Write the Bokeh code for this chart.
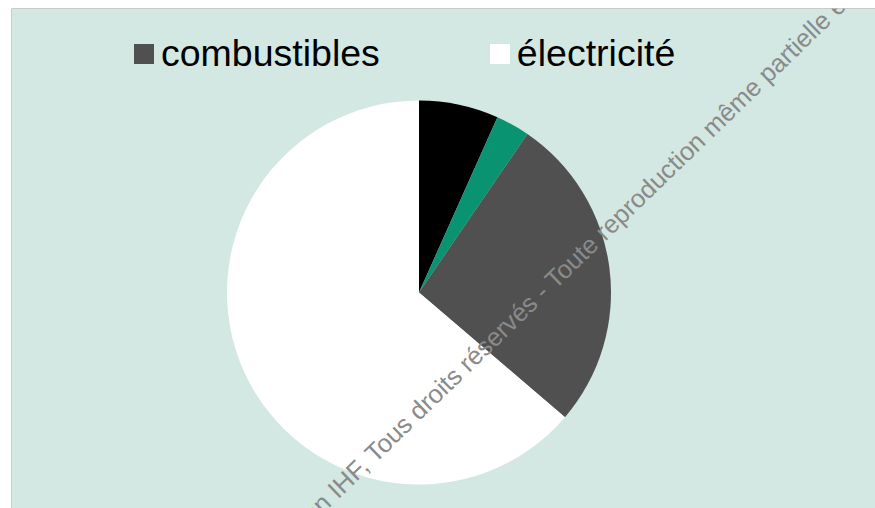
import math
from bokeh.plotting import figure
from bokeh.models import Range1d, Legend, LegendItem, ColumnDataSource, Span
from bokeh.core.properties import value
from bokeh.embed import file_html
from bokeh.resources import INLINE

# Data (share of consumption, %), clockwise from 12 o'clock
categories = ["carburants", "chaleur", "combustibles", "électricité"]
shares = [6.7, 2.85, 26.7, 63.75]
colors = ["#000000", "#0a9370", "#505050", "#ffffff"]
legend_shown = ["combustibles", "électricité"]
watermark = "Fondation IHF, Tous droits réservés - Toute reproduction même partielle est interdite"

W, H = 875, 508
p = figure(width=W, height=H, output_backend="svg", toolbar_location=None,
           x_range=Range1d(0, 864), y_range=Range1d(0, 500),
           min_border_left=11, min_border_right=0, min_border_top=8, min_border_bottom=0)
p.axis.visible = False
p.grid.visible = False
p.background_fill_color = "#d4e8e3"
p.border_fill_color = "#ffffff"
p.outline_line_color = None

# chart-area border only on the left and top (the rest runs off the window)
p.add_layout(Span(location=0, dimension="height", line_color="#a6a6a6", line_width=1))
p.add_layout(Span(location=500, dimension="width", line_color="#a6a6a6", line_width=1))

total = sum(shares)
starts, ends = [], []
cum = 0.0
for s in shares:
    starts.append(math.pi / 2 - 2 * math.pi * cum / total)
    cum += s
    ends.append(math.pi / 2 - 2 * math.pi * cum / total)

src = ColumnDataSource(dict(cat=categories, share=shares, color=colors,
                            start=starts, end=ends,
                            x=[407.5] * len(shares), y=[216.0] * len(shares)))
r = p.wedge(x="x", y="y", radius=192, start_angle="start", end_angle="end",
            direction="clock", fill_color="color", line_color=None, source=src)

items = [LegendItem(label=c, renderers=[r], index=categories.index(c)) for c in legend_shown]
legend = Legend(items=items, orientation="horizontal", location=(120, 433),
                glyph_width=25, glyph_height=25, label_standoff=5, spacing=107,
                label_text_font="Liberation Sans", label_text_font_size="37.5px",
                label_text_color="#000000", background_fill_alpha=0,
                border_line_color=None, padding=10, margin=0)
p.add_layout(legend, "center")

p.text(x=[233.5], y=[-68.5], text=[watermark], angle=44, angle_units="deg",
       text_font=value("Liberation Sans"), text_font_size="25.5px",
       text_color="#8a8a8a", text_align="left", text_baseline="alphabetic")

open("out.html", "w").write(file_html(p, INLINE))
